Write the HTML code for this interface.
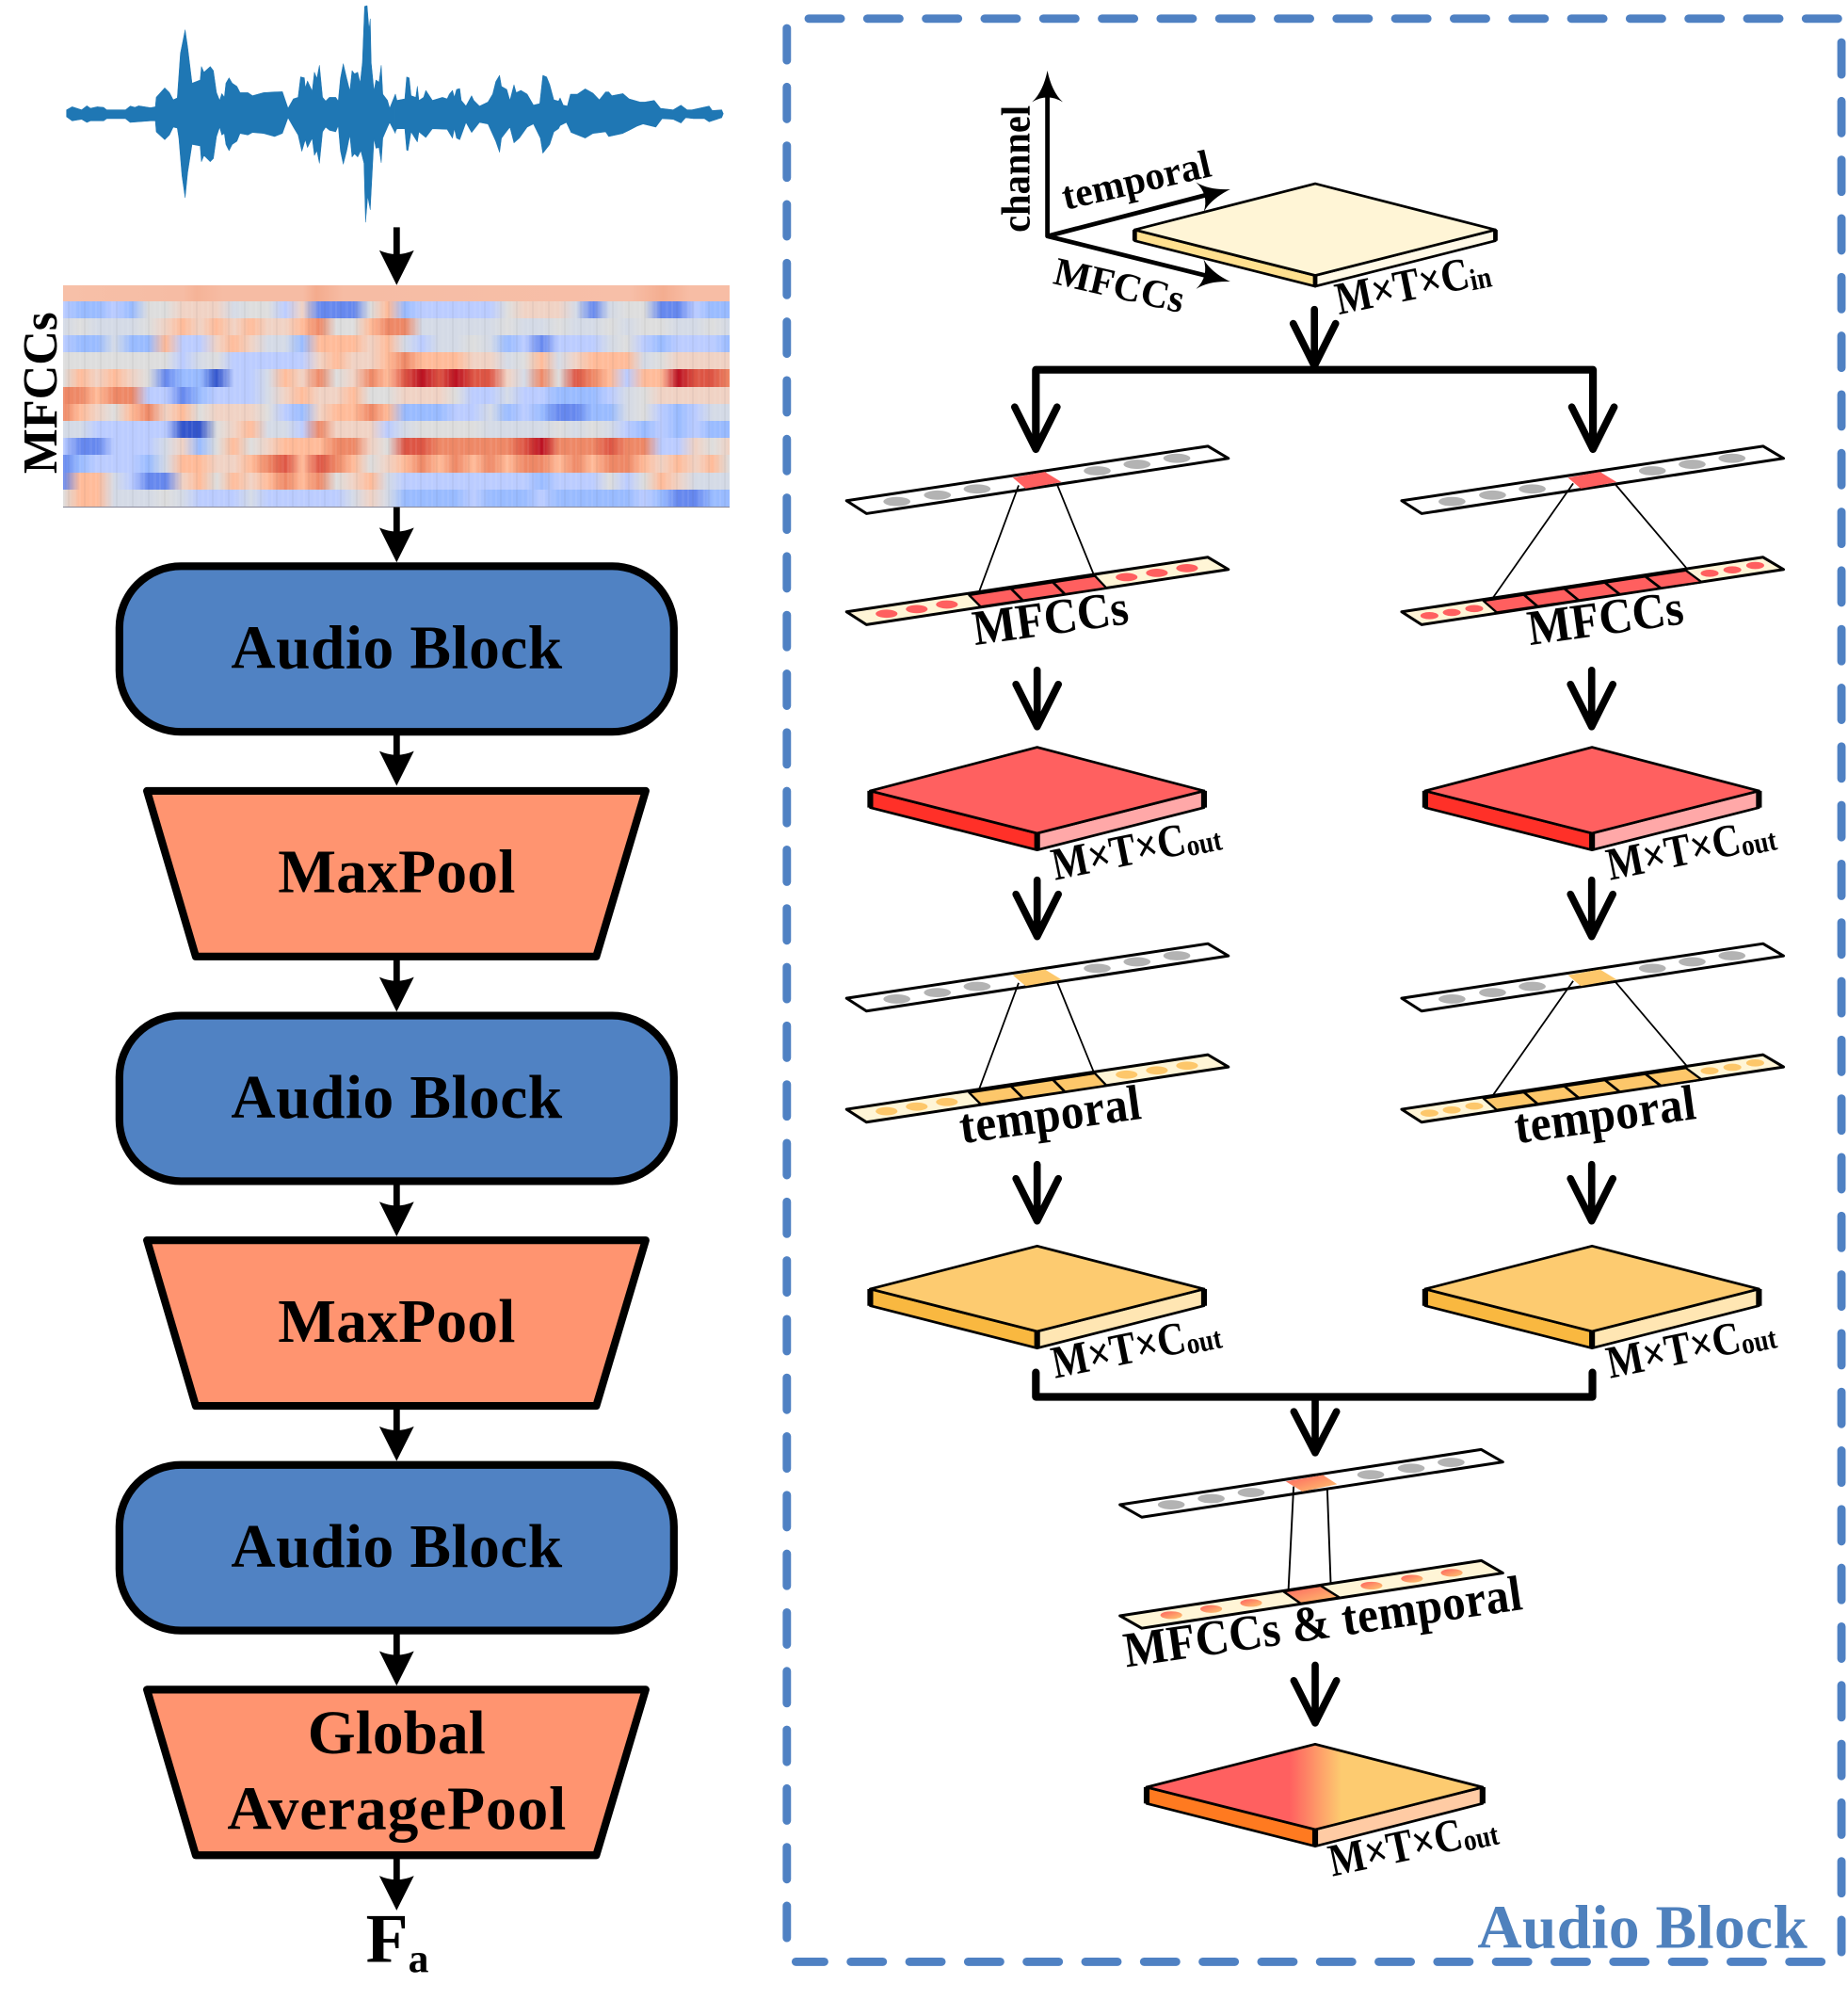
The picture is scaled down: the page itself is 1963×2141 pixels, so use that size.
<!DOCTYPE html>
<html><head><meta charset="utf-8"><style>
html,body{margin:0;padding:0;background:#fff}
#p{position:relative;width:1963px;height:2141px;overflow:hidden;background:#fff}
.r{position:absolute;left:67px;width:708px;height:18.4px}
#tx{position:absolute;left:67px;top:320px;width:708px;height:218px;background:repeating-linear-gradient(90deg,rgba(255,255,255,.08) 0 2px,rgba(0,0,0,0) 2px 5px,rgba(60,60,60,.05) 5px 7px,rgba(0,0,0,0) 7px 11px,rgba(255,255,255,.06) 11px 14px,rgba(0,0,0,0) 14px 17px)}
svg{position:absolute;left:0;top:0}
text{font-family:"Liberation Serif",serif;font-weight:bold;fill:#000}
</style></head><body><div id="p">
<div class="r" style="top:303px;height:17px;background:linear-gradient(90deg,#f7c0a8,#f6bca4 18%,#f5b397 20%,#f6bca4 24%,#f6bca4 36%,#f4ab8d 38%,#f6bca4 42%,#f7bfa8 85%,#f4ad90 90%,#f7bda5 94%)"></div>
<div class="r" style="top:319.5px;background:linear-gradient(90deg,#bcf,#9bf,#9bf,#bcf,#9bf,#ddd,#ddd,#f0d2c4,#f0d2c4,#f0d2c4,#d4dae6,#ddd,#ddd,#bcf,#f0d2c4,#68e,#68e,#68e,#ddd,#fb9,#9bf,#bcf,#bcf,#bcf,#bcf,#bcf,#ddd,#f0d2c4,#f0d2c4,#f0d2c4,#d4dae6,#68e,#d4dae6,#ddd,#ddd,#68e,#68e,#bcf,#9bf,#9bf)"></div>
<div class="r" style="top:337.7px;background:linear-gradient(90deg,#d4dae6,#ddd,#d4dae6,#d4dae6,#d4dae6,#ddd,#f0d2c4,#fb9,#f0d2c4,#fb9,#f0d2c4,#fb9,#f0d2c4,#f0d2c4,#fb9,#e86,#ddd,#ddd,#fb9,#e86,#e86,#d4dae6,#d4dae6,#d4dae6,#d4dae6,#d4dae6,#ddd,#d4dae6,#d4dae6,#ddd,#d4dae6,#d4dae6,#ddd,#d4dae6,#ddd,#ddd,#d4dae6,#d4dae6,#ddd,#d4dae6)"></div>
<div class="r" style="top:355.9px;background:linear-gradient(90deg,#bcf,#9bf,#9bf,#d4dae6,#9bf,#9bf,#fb9,#bcf,#bcf,#f0d2c4,#fb9,#f0d2c4,#d4dae6,#d4dae6,#9bf,#fb9,#fb9,#fb9,#f0d2c4,#fb9,#d4dae6,#bcf,#d4dae6,#d4dae6,#ddd,#d4dae6,#9bf,#bcf,#68e,#bcf,#bcf,#bcf,#d4dae6,#ddd,#bcf,#9bf,#bcf,#bcf,#bcf,#9bf)"></div>
<div class="r" style="top:374.1px;background:linear-gradient(90deg,#ddd,#ddd,#ddd,#ddd,#ddd,#ddd,#ddd,#bcf,#d4dae6,#ddd,#bcf,#bcf,#bcf,#bcf,#bcf,#f0d2c4,#fb9,#f0d2c4,#f0d2c4,#fb9,#e86,#fb9,#fb9,#fb9,#f0d2c4,#f0d2c4,#d4dae6,#ddd,#fb9,#d4dae6,#f0d2c4,#fb9,#fb9,#fb9,#d4dae6,#ddd,#f0d2c4,#f0d2c4,#f0d2c4,#f0d2c4)"></div>
<div class="r" style="top:392.3px;background:linear-gradient(90deg,#ddd,#fb9,#f0d2c4,#fb9,#f0d2c4,#ddd,#68e,#9bf,#9bf,#35c,#bcf,#bcf,#d4dae6,#fb9,#f0d2c4,#e86,#ddd,#f0d2c4,#e86,#fb9,#d54,#b12,#d54,#b12,#d54,#d54,#f0d2c4,#d4dae6,#e86,#ddd,#d54,#e86,#fb9,#bcf,#fb9,#fb9,#b12,#d54,#d54,#e86)"></div>
<div class="r" style="top:410.5px;background:linear-gradient(90deg,#e86,#e86,#fb9,#e86,#e86,#bcf,#bcf,#68e,#9bf,#bcf,#bcf,#bcf,#d4dae6,#f0d2c4,#fb9,#f0d2c4,#f0d2c4,#fb9,#ddd,#ddd,#f0d2c4,#f0d2c4,#f0d2c4,#ddd,#bcf,#bcf,#d4dae6,#bcf,#bcf,#9bf,#9bf,#9bf,#bcf,#d4dae6,#ddd,#f0d2c4,#f0d2c4,#f0d2c4,#f0d2c4,#f0d2c4)"></div>
<div class="r" style="top:428.7px;background:linear-gradient(90deg,#e86,#fb9,#f0d2c4,#ddd,#fb9,#e86,#f0d2c4,#fb9,#ddd,#f0d2c4,#f0d2c4,#f0d2c4,#ddd,#bcf,#9bf,#f0d2c4,#fb9,#fb9,#e86,#fb9,#9bf,#9bf,#9bf,#bcf,#bcf,#d4dae6,#9bf,#bcf,#9bf,#68e,#68e,#9bf,#9bf,#d4dae6,#ddd,#bcf,#9bf,#bcf,#d4dae6,#d4dae6)"></div>
<div class="r" style="top:446.9px;background:linear-gradient(90deg,#d4dae6,#d4dae6,#bcf,#bcf,#bcf,#bcf,#bcf,#35c,#35c,#ddd,#f0d2c4,#fb9,#d4dae6,#d4dae6,#bcf,#e86,#f0d2c4,#f0d2c4,#f0d2c4,#bcf,#d4dae6,#ddd,#ddd,#ddd,#ddd,#d4dae6,#d4dae6,#d4dae6,#d4dae6,#ddd,#d4dae6,#ddd,#d4dae6,#bcf,#9bf,#bcf,#9bf,#bcf,#9bf,#9bf)"></div>
<div class="r" style="top:465.1px;background:linear-gradient(90deg,#bcf,#68e,#68e,#bcf,#bcf,#bcf,#d4dae6,#f0d2c4,#9bf,#ddd,#fb9,#ddd,#f0d2c4,#fb9,#fb9,#fb9,#e86,#e86,#f0d2c4,#ddd,#d54,#d54,#e86,#e86,#e86,#e86,#e86,#d54,#b12,#e86,#e86,#e86,#d54,#e86,#e86,#bcf,#bcf,#f0d2c4,#ddd,#f0d2c4)"></div>
<div class="r" style="top:483.3px;background:linear-gradient(90deg,#68e,#9bf,#bcf,#bcf,#bcf,#9bf,#d4dae6,#fb9,#fb9,#f0d2c4,#f0d2c4,#fb9,#e86,#d54,#fb9,#d54,#e86,#fb9,#ddd,#f0d2c4,#fb9,#e86,#fb9,#e86,#fb9,#e86,#fb9,#e86,#e86,#fb9,#e86,#fb9,#e86,#e86,#fb9,#f0d2c4,#fb9,#f0d2c4,#fb9,#ddd)"></div>
<div class="r" style="top:501.5px;background:linear-gradient(90deg,#68e,#fb9,#fb9,#d4dae6,#bcf,#68e,#68e,#f0d2c4,#fb9,#ddd,#fb9,#f0d2c4,#fb9,#e86,#fb9,#e86,#ddd,#f0d2c4,#fb9,#d4dae6,#bcf,#bcf,#bcf,#bcf,#bcf,#bcf,#bcf,#bcf,#9bf,#bcf,#bcf,#bcf,#ddd,#bcf,#ddd,#fb9,#f0d2c4,#d4dae6,#d4dae6,#d4dae6)"></div>
<div class="r" style="top:519.7px;border-bottom:1px solid #889;background:linear-gradient(90deg,#ddd,#fb9,#fb9,#d4dae6,#d4dae6,#d4dae6,#ddd,#d4dae6,#bcf,#bcf,#bcf,#d4dae6,#bcf,#bcf,#bcf,#bcf,#bcf,#d4dae6,#f0d2c4,#d4dae6,#9bf,#9bf,#9bf,#9bf,#bcf,#9bf,#9bf,#9bf,#bcf,#9bf,#9bf,#9bf,#9bf,#9bf,#bcf,#9bf,#68e,#68e,#9bf,#9bf)"></div>
<div id="tx"></div>

<svg width="1963" height="2141" viewBox="0 0 1439.7 1570.2" xmlns="http://www.w3.org/2000/svg">
<defs>
<path id="sa" d="M0,0L-13.5,-27Q0,-21 13.5,-27Z" fill="#000"/>
<path id="ah" d="M0,0C-2,-10 -6,-19 -12,-24.5Q0,-17 12,-24.5C6,-19 2,-10 0,0Z" fill="#000"/>
<path id="oa" d="M0,-47V-3M-16.5,-36L0,-3L16.5,-36" fill="none" stroke="#000" stroke-width="5.6" stroke-linecap="round" stroke-linejoin="round"/>
<linearGradient id="gp" gradientUnits="userSpaceOnUse" x1="1004.6" y1="0" x2="1045" y2="0"><stop offset="0" stop-color="#ff6060"/><stop offset="1" stop-color="#fdcb70"/></linearGradient>
<linearGradient id="gs" x1="0" y1="0" x2="1" y2="1"><stop offset="0" stop-color="#ff5f5f"/><stop offset="1" stop-color="#fdcb70"/></linearGradient>
<g id="upper">
<polygon points="659.5,390 675,400 957,357 941,347.5" fill="#fff" stroke="#000" stroke-width="2.2" stroke-linejoin="round"/>
<g fill="#b3b3b3"><ellipse cx="698.7" cy="390.6" rx="10.5" ry="3.6"/><ellipse cx="730.3" cy="385.6" rx="10.5" ry="3.6"/><ellipse cx="761.2" cy="380.8" rx="10.5" ry="3.6"/><ellipse cx="854.8" cy="366.7" rx="10.5" ry="3.6"/><ellipse cx="885.8" cy="361.6" rx="10.5" ry="3.6"/><ellipse cx="916.8" cy="356.9" rx="10.5" ry="3.6"/></g>
<polygon points="789,372 814,367.5 827,375.5 799,380.5" fill="currentColor"/>
</g>
<g id="ua">
<use href="#upper"/>
<path d="M793.6,378L762,463M823.2,376.5L852.7,449" stroke="#000" stroke-width="1.3" fill="none"/>
<polygon points="659.5,476.5 675,486.5 957,443.5 941,434" fill="#fff5d6" stroke="#000" stroke-width="2.2" stroke-linejoin="round"/>
<g fill="currentColor"><ellipse cx="690.7" cy="478" rx="8.5" ry="3.2"/><ellipse cx="714.2" cy="474.4" rx="8.5" ry="3.2"/><ellipse cx="737.7" cy="470.8" rx="8.5" ry="3.2"/><ellipse cx="877.7" cy="449.5" rx="8.5" ry="3.2"/><ellipse cx="901.3" cy="446.2" rx="8.5" ry="3.2"/><ellipse cx="924.8" cy="442.5" rx="8.5" ry="3.2"/></g>
<polygon points="755,463.5 853,448.5 862,458 764,472.5" fill="currentColor" stroke="#000" stroke-width="1.7" stroke-linejoin="round"/>
<path d="M787.7,458.5L796.7,467.5M820.3,453.5L829.3,462.5" stroke="#000" stroke-width="2"/>
</g>
<g id="ub">
<use href="#upper"/>
<path d="M793.1,376.5L730,466.4M825.3,376.5L882.5,443.8" stroke="#000" stroke-width="1.3" fill="none"/>
<polygon points="659.5,476.5 675,486.5 957,443.5 941,434" fill="#fff5d6" stroke="#000" stroke-width="2.2" stroke-linejoin="round"/>
<g fill="currentColor"><ellipse cx="681.1" cy="479.5" rx="7" ry="2.8"/><ellipse cx="698.5" cy="477" rx="7" ry="2.8"/><ellipse cx="716" cy="474" rx="7" ry="2.8"/><ellipse cx="899.4" cy="446.5" rx="7" ry="2.8"/><ellipse cx="917.1" cy="443.8" rx="7" ry="2.8"/><ellipse cx="934.9" cy="440.4" rx="7" ry="2.8"/></g>
<polygon points="723.2,468 880.9,444.3 893.2,453.4 733.5,477" fill="currentColor" stroke="#000" stroke-width="1.7" stroke-linejoin="round"/>
<path d="M754.7,463.2L765.4,472.3M786.3,458.5L797.4,467.6M817.8,453.7L829.3,462.8M849.4,449L861.3,458.1" stroke="#000" stroke-width="2"/>
</g>
<g id="pr" stroke="#000" stroke-width="2" stroke-linejoin="round">
<polygon points="678,616 808,649 808,662 678,629" fill="#ff3028"/>
<polygon points="808,649 938,616 938,629 808,662" fill="#ffa8a8"/>
<polygon points="808,582 938,616 808,649 678,616" fill="#ff6060"/>
<path d="M678,616V629M808,649V662M938,616V629" stroke-width="4.5" fill="none"/>
</g>
<g id="py" stroke="#000" stroke-width="2" stroke-linejoin="round">
<polygon points="678,1004 808,1037 808,1050 678,1017" fill="#f9b840"/>
<polygon points="808,1037 938,1004 938,1017 808,1050" fill="#ffe6b3"/>
<polygon points="808,970.5 938,1004 808,1037 678,1004" fill="#fdcb70"/>
<path d="M678,1004V1017M808,1037V1050M938,1004V1017" stroke-width="4.5" fill="none"/>
</g>
</defs>

<!-- waveform -->
<g transform="scale(0.7334)" fill="#1f77b4" stroke="#1f77b4" stroke-width="1.6" stroke-linejoin="round">
<path transform="translate(60,0) scale(0.3333)" d="M32,350L50,340 65,345 80,350 97,337 108,345 130,340 150,342 160,350 220,350 235,338 250,342 262,337 300,343 315,340 318,310 345,280 360,295 372,318 385,312 395,170 410,95 418,150 432,265 458,255 462,212 470,230 490,212 500,225 510,295 520,320 527,298 535,310 540,265 550,248 560,265 575,275 585,295 610,295 625,305 660,295 695,293 720,292 738,345 755,315 770,310 778,245 790,248 793,280 800,258 815,290 822,230 830,250 838,208 848,310 858,322 870,310 890,310 898,322 905,250 914,203 925,250 935,290 942,225 950,235 960,230 968,265 975,200 982,20 990,18 996,95 1000,60 1003,200 1012,290 1018,255 1028,262 1035,208 1040,300 1055,320 1062,345 1080,300 L1080,425 1062,390 1055,405 1040,440 1035,518 1028,470 1018,472 1012,440 1003,610 1000,668 992,625 985,708 980,520 970,480 960,500 950,490 942,500 935,430 925,480 914,523 905,480 898,400 890,420 870,415 858,405 848,420 838,520 830,480 822,495 815,440 800,470 793,445 782,482 770,430 755,405 738,375 720,425 695,435 660,425 625,422 610,430 585,425 575,450 560,460 550,480 540,460 535,425 527,430 520,405 510,435 500,505 490,515 470,495 462,515 458,465 432,460 418,550 410,630 400,560 390,440 385,408 372,405 360,430 345,445 318,420 315,385 300,385 260,388 235,390 220,378 160,378 150,385 108,385 97,390 80,380 50,385 32,372Z"/>
<path transform="translate(420,0) scale(0.3333)" d="M0,300L5,320 30,315 36,245 44,248 50,305 65,310 70,275 75,320 90,310 97,288 105,300 118,320 150,310 165,315 172,300 182,288 188,310 195,285 205,282 210,320 225,338 243,305 250,320 268,338 295,325 310,300 320,260 332,240 338,275 355,285 365,320 378,270 385,295 400,288 420,300 440,335 460,330 470,240 482,245 492,270 505,318 520,322 525,312 535,335 548,338 558,300 580,300 605,283 630,297 650,318 670,293 680,293 690,305 725,298 745,315 780,325 795,325 825,320 845,345 885,350 910,335 930,350 945,350 1000,338 1010,352 1040,350 1045,362 1040,375 1000,388 985,378 950,378 925,375 910,392 885,380 850,378 830,405 790,395 770,402 745,415 725,425 680,435 670,420 630,425 605,440 560,422 545,390 525,400 520,410 505,420 492,460 470,488 462,440 440,395 420,405 395,440 378,455 365,405 338,440 332,485 320,450 295,395 268,390 243,422 225,390 205,445 195,440 188,410 182,440 165,412 118,410 97,438 75,420 70,452 50,420 40,480 36,478 30,410 5,410 0,420Z"/>
</g>

<!-- left column -->
<text transform="translate(44,369) rotate(-90)" font-size="38" textLength="126" lengthAdjust="spacingAndGlyphs">MFCCs</text>

<g stroke="#000" stroke-width="5" fill="none">
<path d="M309,177V200M309,395V416M309,572V590M309,747V766M309,922V941M309,1097V1116M309,1272V1291M309,1447V1466"/>
</g>
<use href="#sa" x="309" y="222"/><use href="#sa" x="309" y="438"/><use href="#sa" x="309" y="612"/><use href="#sa" x="309" y="788"/><use href="#sa" x="309" y="963"/><use href="#sa" x="309" y="1138"/><use href="#sa" x="309" y="1313"/><use href="#sa" x="309" y="1488"/>

<g fill="#5082c3" stroke="#000" stroke-width="6">
<rect x="93" y="441" width="432" height="129" rx="48"/>
<rect x="93" y="791" width="432" height="129" rx="48"/>
<rect x="93" y="1141" width="432" height="129" rx="48"/>
</g>
<g fill="#ff9470" stroke="#000" stroke-width="6" stroke-linejoin="round">
<polygon points="114.5,616 503,616 464.5,745 152.5,745"/>
<polygon points="114.5,966 503,966 464.5,1095 152.5,1095"/>
<polygon points="114.5,1316 503,1316 464.5,1445 152.5,1445"/>
</g>
<g font-size="48" text-anchor="middle">
<text x="309" y="520.5" textLength="258" lengthAdjust="spacing">Audio Block</text>
<text x="309" y="870.5" textLength="258" lengthAdjust="spacing">Audio Block</text>
<text x="309" y="1220.5" textLength="258" lengthAdjust="spacing">Audio Block</text>
<text x="309" y="695" textLength="185" lengthAdjust="spacing">MaxPool</text>
<text x="309" y="1045" textLength="185" lengthAdjust="spacing">MaxPool</text>
<text x="309" y="1365.5">Global</text>
<text x="309" y="1424.5" textLength="264" lengthAdjust="spacing">AveragePool</text>
</g>
<text x="285" y="1528" font-size="54">F</text>
<text x="318" y="1536" font-size="32">a</text>

<!-- dashed panel -->
<g stroke="#4f81c3" stroke-width="6.5" stroke-linecap="round" fill="none" stroke-dasharray="25 20.7">
<path d="M630,14.5H1436"/>
<path d="M1434.6,33V1528"/>
<path d="M613,22V1518"/>
<path d="M1419,1528H620"/>
</g>
<text x="1151" y="1517" font-size="48" textLength="257" lengthAdjust="spacing" style="fill:#4f81bd">Audio Block</text>

<!-- axes -->
<path d="M816,72V183.9L945,150.5M816,183.9L945,216" stroke="#000" stroke-width="3.5" fill="none" stroke-linejoin="round"/>
<use href="#ah" transform="translate(816,55) rotate(180)"/>
<use href="#ah" transform="translate(958.5,147.4) rotate(-104.5)"/>
<use href="#ah" transform="translate(958.5,219.3) rotate(-76)"/>
<text transform="translate(802,181) rotate(-90)" font-size="32" textLength="99" lengthAdjust="spacingAndGlyphs">channel</text>
<text transform="translate(830,163.5) rotate(-13)" font-size="31" textLength="118" lengthAdjust="spacingAndGlyphs">temporal</text>
<text transform="translate(819.5,220.6) rotate(13)" font-size="31" textLength="103" lengthAdjust="spacingAndGlyphs">MFCCs</text>

<!-- input plate -->
<g stroke="#000" stroke-width="2" stroke-linejoin="round">
<polygon points="884,179 1024.6,214.5 1024.6,223 884,187.5" fill="#ffe08f"/>
<polygon points="1024.6,214.5 1165,179 1165,187.5 1024.6,223" fill="#fff9e6"/>
<polygon points="1024.6,143 1165,179 1024.6,214.5 884,179" fill="#fff5d6"/>
<path d="M884,179V187.5M1024.6,214.5V223M1165,179V187.5" stroke-width="3.5" fill="none"/>
</g>
<text transform="translate(1043,245) rotate(-11.5) scale(.95,1.12)" font-size="32">M×T×C<tspan font-size="21" dy="2">in</tspan></text>

<!-- top splitter -->
<use href="#oa" x="1024" y="288"/>
<path d="M1241,350V288H807V350" stroke="#000" stroke-width="6" fill="none" stroke-linejoin="round"/>
<path d="M790.5,317L807,350L823.5,317M1224.5,317L1241,350L1257.5,317" fill="none" stroke="#000" stroke-width="5.6" stroke-linecap="round" stroke-linejoin="round"/>

<!-- MFCC units -->
<use href="#ua" style="color:#ff5f5f"/>
<use href="#ub" x="432.5" style="color:#ff5f5f"/>
<g font-size="36">
<text transform="translate(759.6,502.5) rotate(-8) scale(1,1.08)" textLength="122">MFCCs</text>
<text transform="translate(1192,502.5) rotate(-8) scale(1,1.08)" textLength="122">MFCCs</text>
</g>
<use href="#oa" x="808" y="569"/><use href="#oa" x="1240" y="569"/>

<!-- red plates -->
<use href="#pr"/><use href="#pr" x="432.3"/>
<g font-size="32">
<text transform="translate(822,685.5) rotate(-11.4) scale(.95,1.12)">M×T×C<tspan font-size="21" dy="2">out</tspan></text>
<text transform="translate(1254.3,685.5) rotate(-11.4) scale(.95,1.12)">M×T×C<tspan font-size="21" dy="2">out</tspan></text>
</g>
<use href="#oa" x="808" y="732.5"/><use href="#oa" x="1240" y="732.5"/>

<!-- temporal units -->
<use href="#ua" y="387.5" style="color:#fdc76a"/>
<use href="#ub" x="432.5" y="387.5" style="color:#fdc76a"/>
<g font-size="36">
<text transform="translate(749.4,890.5) rotate(-7.8) scale(1,1.08)" textLength="142" lengthAdjust="spacing">temporal</text>
<text transform="translate(1181.7,890.5) rotate(-7.8) scale(1,1.08)" textLength="142" lengthAdjust="spacing">temporal</text>
</g>
<use href="#oa" x="808" y="954"/><use href="#oa" x="1240" y="954"/>

<!-- yellow plates -->
<use href="#py"/><use href="#py" x="432.3"/>
<g font-size="32">
<text transform="translate(822,1073.5) rotate(-11.4) scale(.95,1.12)">M×T×C<tspan font-size="21" dy="2">out</tspan></text>
<text transform="translate(1254.3,1073.5) rotate(-11.4) scale(.95,1.12)">M×T×C<tspan font-size="21" dy="2">out</tspan></text>
</g>

<!-- merge -->
<path d="M807,1069V1088H1240.6V1069" stroke="#000" stroke-width="6" fill="none" stroke-linejoin="round" stroke-linecap="round"/>
<path d="M1024.6,1088V1131M1008,1099.5L1024.6,1131.5L1041.2,1099.5" fill="none" stroke="#000" stroke-width="5.6" stroke-linecap="round" stroke-linejoin="round"/>

<!-- combined unit -->
<polygon points="872.5,1172 889.5,1181.7 1170.8,1138.7 1154,1129" fill="#fff" stroke="#000" stroke-width="2.2" stroke-linejoin="round"/>
<g fill="#b3b3b3"><ellipse cx="912.5" cy="1172" rx="10.5" ry="3.6"/><ellipse cx="943.6" cy="1167.2" rx="10.5" ry="3.6"/><ellipse cx="974.7" cy="1162.5" rx="10.5" ry="3.6"/><ellipse cx="1067.9" cy="1148.6" rx="10.5" ry="3.6"/><ellipse cx="1099.4" cy="1143.6" rx="10.5" ry="3.6"/><ellipse cx="1130.5" cy="1139" rx="10.5" ry="3.6"/></g>
<polygon points="1001.7,1153.8 1030.7,1148.9 1041.7,1156 1014.6,1161.7" fill="url(#gs)"/>
<path d="M1007.8,1157.8L1003.7,1239.6M1034,1159L1036.8,1235.8" stroke="#000" stroke-width="1.4" fill="none"/>
<polygon points="872.5,1258.5 889.5,1268.2 1170.8,1225.2 1154,1215.5" fill="#fff5d6" stroke="#000" stroke-width="2.2" stroke-linejoin="round"/>
<g fill="url(#gs)"><ellipse cx="912.5" cy="1258" rx="8.5" ry="3"/><ellipse cx="943.6" cy="1253.2" rx="8.5" ry="3"/><ellipse cx="974.7" cy="1248.5" rx="8.5" ry="3"/><ellipse cx="1068.5" cy="1235" rx="8.5" ry="3"/><ellipse cx="1100" cy="1229.6" rx="8.5" ry="3"/><ellipse cx="1131" cy="1225" rx="8.5" ry="3"/></g>
<polygon points="1000,1239.6 1028.8,1235 1043.6,1244.3 1013.4,1249" fill="url(#gs)" stroke="#000" stroke-width="1.8" stroke-linejoin="round"/>
<text transform="translate(877.4,1298.5) rotate(-8.3) scale(1,1.08)" font-size="36" textLength="313" lengthAdjust="spacing">MFCCs &amp; temporal</text>
<path d="M1024.6,1297V1342M1008,1309L1024.6,1342L1041.2,1309" fill="none" stroke="#000" stroke-width="5.6" stroke-linecap="round" stroke-linejoin="round"/>

<!-- final plate -->
<g stroke="#000" stroke-width="2" stroke-linejoin="round">
<polygon points="893.3,1392 1024.6,1425 1024.6,1438 893.3,1404.7" fill="#ff7a20"/>
<polygon points="1024.6,1425 1155,1392 1155,1404.7 1024.6,1438" fill="#ffcba4"/>
<polygon points="1024.6,1358.5 1155,1392 1024.6,1425 893.3,1392" fill="url(#gp)"/>
<path d="M893.3,1392V1404.7M1024.6,1425V1438M1155,1392V1404.7" stroke-width="4.5" fill="none"/>
</g>
<text transform="translate(1038,1461.5) rotate(-12) scale(.95,1.12)" font-size="32">M×T×C<tspan font-size="21" dy="2">out</tspan></text>
</svg>
</div></body></html>
